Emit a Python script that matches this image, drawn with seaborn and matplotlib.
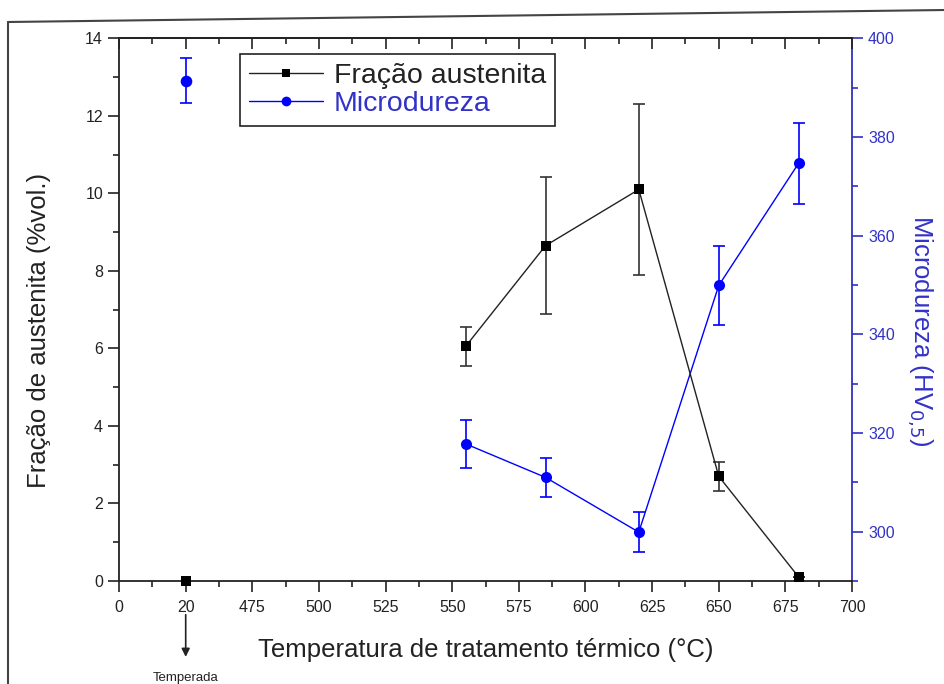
import numpy as np
import pandas as pd
import matplotlib
matplotlib.use("Agg")
import matplotlib.pyplot as plt
from matplotlib.ticker import FixedLocator, MultipleLocator, NullFormatter
from matplotlib.lines import Line2D
import seaborn as sns

# ---------------- data ----------------
temps = [555, 585, 620, 650, 680]
austenita = [6.05, 8.65, 10.1, 2.7, 0.1]
austenita_err = [0.5, 1.77, 2.2, 0.38, 0.0]
microdureza = [317.8, 311.0, 299.9, 349.9, 374.7]
microdureza_err = [4.9, 4.0, 4.0, 8.0, 8.2]

temp_quench = [20]
austenita_quench = [0.0]
microdureza_quench = [391.4]
microdureza_quench_err = [4.6]

xtick_values = [0, 20, 475, 500, 525, 550, 575, 600, 625, 650, 675, 700]
xtick_labels = ["0", "20", "475", "500", "525", "550", "575", "600", "625", "650", "675", "700"]

# ---------------- broken x scale ----------------
def fwd(t):
    t = np.asarray(t, dtype=float)
    return np.where(t <= 20, t / 20.0,
                    np.where(t <= 475, 1 + (t - 20) / 455.0, 2 + (t - 475) / 25.0))

def inv(p):
    p = np.asarray(p, dtype=float)
    return np.where(p <= 1, p * 20.0,
                    np.where(p <= 2, 20 + (p - 1) * 455.0, 475 + (p - 2) * 25.0))

sns.set_theme(style="white")
plt.rcParams['font.family'] = ['Liberation Sans', 'DejaVu Sans']

BLUE = "#0000ff"
BLUE_TXT = "#3232c8"
DARK = "#222222"

fig = plt.figure(figsize=(9.45, 6.84), dpi=100)
ax = fig.add_axes([0.126, 0.1506, 0.7756, 0.7934])
ax.set_xscale('function', functions=(fwd, inv))
ax2 = ax.twinx()
ax2.set_xscale('function', functions=(fwd, inv))
ax3 = ax.twiny()
ax3.set_xscale('function', functions=(fwd, inv))

df = pd.DataFrame({"T": temps, "A": austenita, "H": microdureza})

# black series
ax.errorbar(temps, austenita, yerr=austenita_err, fmt='none', ecolor='#333333',
            elinewidth=1.2, capsize=4, capthick=1.2, zorder=2)
sns.lineplot(data=df, x="T", y="A", ax=ax, color=DARK, linewidth=1.0,
             marker='s', markersize=7, markeredgewidth=0, markerfacecolor='black',
             legend=False, zorder=3)
sns.scatterplot(x=temp_quench, y=austenita_quench, ax=ax, marker='s', s=55,
                color='black', linewidth=0, clip_on=False, zorder=4)

# blue series
ax2.errorbar(temps, microdureza, yerr=microdureza_err, fmt='none', ecolor=BLUE,
             elinewidth=1.2, capsize=4, capthick=1.2, zorder=2)
ax2.errorbar(temp_quench, microdureza_quench, yerr=microdureza_quench_err, fmt='none',
             ecolor=BLUE, elinewidth=1.2, capsize=4, capthick=1.2, zorder=2)
sns.lineplot(data=df, x="T", y="H", ax=ax2, color=BLUE, linewidth=1.0,
             marker='o', markersize=8, markeredgewidth=0, markerfacecolor=BLUE,
             legend=False, zorder=3)
sns.scatterplot(x=temp_quench, y=microdureza_quench, ax=ax2, marker='o', s=70,
                color=BLUE, linewidth=0, zorder=4)

# axes limits / ticks
for a in (ax, ax2, ax3):
    a.set_xlim(0, 700)
ax.set_ylim(0, 14)
ax2.set_ylim(290, 400)

minor_x = inv(np.arange(0.5, 11, 1.0))
ax.xaxis.set_major_locator(FixedLocator(xtick_values))
ax.set_xticklabels(xtick_labels)
ax.xaxis.set_minor_locator(FixedLocator(minor_x))
ax3.xaxis.set_major_locator(FixedLocator(xtick_values))
ax3.xaxis.set_minor_locator(FixedLocator(minor_x))
ax3.xaxis.set_major_formatter(NullFormatter())
ax3.xaxis.set_minor_formatter(NullFormatter())
ax3.set_xlabel("")

ax.yaxis.set_major_locator(MultipleLocator(2))
ax.yaxis.set_minor_locator(MultipleLocator(1))
ax2.yaxis.set_major_locator(MultipleLocator(20))
ax2.yaxis.set_minor_locator(MultipleLocator(10))

ax.tick_params(axis='x', which='major', direction='out', length=8, width=1.2,
               labelsize=11.5, colors=DARK, top=False, bottom=True, pad=6)
ax.tick_params(axis='x', which='minor', direction='out', length=4, width=1.2,
               top=False, bottom=True, colors=DARK)
ax3.tick_params(axis='x', which='major', direction='in', length=8, width=1.2,
                colors=DARK, top=True, bottom=False)
ax3.tick_params(axis='x', which='minor', direction='in', length=4, width=1.2,
                colors=DARK, top=True, bottom=False)
ax.tick_params(axis='y', which='major', direction='out', length=8, width=1.2,
               labelsize=11.5, colors=DARK, left=True, right=False)
ax.tick_params(axis='y', which='minor', direction='out', length=4, width=1.2,
               left=True, right=False, colors=DARK)

ax2.tick_params(axis='y', which='major', direction='out', length=8, width=1.2,
                labelsize=11.5, colors='#3030c0', right=True, left=False)
ax2.tick_params(axis='y', which='minor', direction='out', length=4, width=1.2,
                right=True, left=False, colors='#3030c0')
ax2.tick_params(axis='y', labelcolor=BLUE_TXT)

for s in ['left', 'bottom', 'top']:
    ax.spines[s].set_color(DARK)
    ax.spines[s].set_linewidth(1.3)
ax.spines['right'].set_visible(False)
for s in ['left', 'bottom', 'top']:
    ax2.spines[s].set_visible(False)
for s in ['left', 'bottom', 'right']:
    ax3.spines[s].set_visible(False)
ax3.spines['top'].set_color(DARK)
ax3.spines['top'].set_linewidth(1.3)
ax2.spines['right'].set_color('#3030c0')
ax2.spines['right'].set_linewidth(1.3)
ax2.set_xlabel("")

ax.set_xlabel("Temperatura de tratamento térmico (°C)", fontsize=18.5, color=DARK, labelpad=16)
ax.set_ylabel("Fração de austenita (%vol.)", fontsize=18.5, color=DARK)
ax.yaxis.set_label_coords(-0.093, 0.462)
ax2.set_ylabel("Microdureza (HV$_{0{,}5}$)", fontsize=18.5, color=BLUE_TXT, rotation=270)
ax2.yaxis.set_label_coords(1.113, 0.46)

# legend
handles = [
    Line2D([0], [0], color=DARK, lw=1.0, marker='s', markersize=6, markerfacecolor='black', markeredgewidth=0),
    Line2D([0], [0], color=BLUE, lw=1.0, marker='o', markersize=7, markerfacecolor=BLUE, markeredgewidth=0),
]
leg = ax3.legend(handles, ["Fração austenita", "Microdureza"], loc='upper left',
                 bbox_to_anchor=(0.165, 0.971), borderaxespad=0, fontsize=20.5,
                 frameon=True, fancybox=False, edgecolor=DARK, handlelength=2.6,
                 handletextpad=0.4, borderpad=0.3, labelspacing=0.1, framealpha=1)
leg.get_frame().set_linewidth(1.2)
leg.get_texts()[0].set_color(DARK)
leg.get_texts()[1].set_color(BLUE_TXT)
ax.set_zorder(ax2.get_zorder() + 1)
ax.patch.set_visible(False)
ax3.set_zorder(ax.get_zorder() + 1)
ax3.patch.set_visible(False)

# annotation "Temperada"
ax.annotate("", xy=(20, -0.145), xycoords=('data', 'axes fraction'),
            xytext=(20, -0.057), textcoords=('data', 'axes fraction'),
            arrowprops=dict(arrowstyle='-|>', color=DARK, lw=1.2, mutation_scale=12))
ax.text(20, -0.178, "Temperada", transform=ax.get_xaxis_transform(), ha='center',
        va='center', fontsize=9.5, color=DARK)

# scanned-image border
fig.add_artist(Line2D([8 / 945, 1.0], [1 - 22 / 684, 1 - 10 / 684], transform=fig.transFigure,
                      color='#444444', lw=1.5))
fig.add_artist(Line2D([8 / 945, 8 / 945], [0, 1 - 22 / 684], transform=fig.transFigure,
                      color='#444444', lw=1.5))

fig.savefig("out.png", dpi=100)
